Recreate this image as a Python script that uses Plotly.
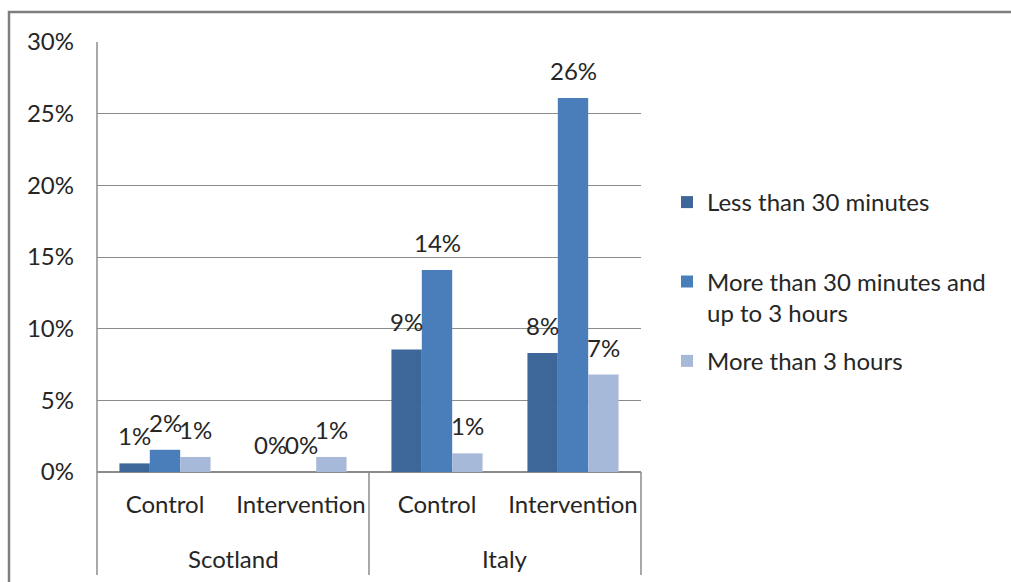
import plotly.graph_objects as go

# Survey shares by country and study arm
countries = ["Scotland", "Scotland", "Italy", "Italy"]
arms = ["Control", "Intervention", "Control", "Intervention"]
series_names = [
    "Less than 30 minutes<br> ",
    "More than 30 minutes and<br>up to 3 hours",
    "More than 3 hours",
]
less_than_30 = [0.006, 0.0, 0.0855, 0.083]
between_30_and_3h = [0.0155, 0.0, 0.141, 0.261]
more_than_3h = [0.0105, 0.0105, 0.013, 0.068]
y_ticks = [0, 0.05, 0.10, 0.15, 0.20, 0.25, 0.30]

colors = ["#3D6799", "#4A7EBB", "#A7B9D9"]
FONT = "Lato, 'Open Sans', sans-serif"
FS = 24
TEXT = "#262626"
GRID = "#8C8C8C"

keys = [f"{c}|{a}" for c, a in zip(countries, arms)]
all_series = [less_than_30, between_30_and_3h, more_than_3h]

# plot-area geometry (px)
L, R, T, B = 97, 641, 42, 472
W, H = 1011, 582
pw, ph = R - L, B - T
bar_w = pw / len(keys) * 0.67 / 3

fig = go.Figure()
for i, (name, vals) in enumerate(zip(series_names, all_series)):
    fig.add_trace(go.Bar(
        x=keys, y=vals, name=name,
        marker=dict(color=colors[i], line=dict(width=0)),
        legendgroup=f"g{i}",
    ))

annotations = []
# value labels above each bar
for i, vals in enumerate(all_series):
    for k, v in zip(keys, vals):
        annotations.append(dict(
            x=k, y=v, xref="x", yref="y", text=f"{v:.0%}",
            showarrow=False, xshift=(i - 1) * bar_w, yshift=11,
            yanchor="bottom", xanchor="center",
            font=dict(family=FONT, size=FS, color=TEXT),
        ))

# country labels under the arm labels
groups = []
for c in countries:
    if c not in groups:
        groups.append(c)
for gi, g in enumerate(groups):
    annotations.append(dict(
        x=(gi + 0.5) / len(groups), y=(B - 558) / ph, xref="paper", yref="paper",
        text=g, showarrow=False, xanchor="center", yanchor="middle",
        font=dict(family=FONT, size=FS, color=TEXT),
    ))

def px_x(p):
    return (p - L) / pw

def px_y(p):
    return (B - p) / ph

shapes = []
bottom = px_y(575)
# left axis line running through the category rows, plus dividers
shapes.append(dict(type="line", xref="paper", yref="paper", x0=0, x1=0,
                   y0=1, y1=bottom, line=dict(color=GRID, width=1.5)))
for xd in [0.5, 1.0]:
    shapes.append(dict(type="line", xref="paper", yref="paper", x0=xd, x1=xd,
                       y0=0, y1=bottom, line=dict(color=GRID, width=1.5)))
# outer chart frame (top and left edges)
shapes.append(dict(type="path", xref="paper", yref="paper",
                   path=f"M {px_x(9)} {px_y(700)} L {px_x(9)} {px_y(12)} L {px_x(1100)} {px_y(12)}",
                   line=dict(color="#7F7F7F", width=2.5)))

fig.update_layout(
    width=W, height=H,
    margin=dict(l=L, r=W - R, t=T, b=H - B, autoexpand=False),
    paper_bgcolor="white", plot_bgcolor="white",
    barmode="group", bargap=0.33, bargroupgap=0,
    font=dict(family=FONT, size=FS, color=TEXT),
    showlegend=True,
    legend=dict(
        x=px_x(667), y=px_y(180), xanchor="left", yanchor="top",
        font=dict(family=FONT, size=FS, color=TEXT),
        bgcolor="rgba(0,0,0,0)", traceorder="grouped",
        tracegroupgap=14, valign="top", itemwidth=30,
    ),
    annotations=annotations,
    shapes=shapes,
)
fig.update_xaxes(
    type="category", tickvals=keys, ticktext=arms,
    showgrid=False, showline=False, zeroline=False, ticks="",
    tickfont=dict(family=FONT, size=FS, color=TEXT),
    ticklabelstandoff=16, automargin=False,
)
fig.update_yaxes(
    range=[0, 0.30], tickvals=y_ticks, tickformat=".0%",
    showgrid=True, gridcolor=GRID, gridwidth=1,
    zeroline=True, zerolinecolor=GRID, zerolinewidth=1.5,
    showline=False, ticks="",
    tickfont=dict(family=FONT, size=FS, color=TEXT),
    ticklabelstandoff=22, automargin=False,
)

fig.write_html("out.html")
